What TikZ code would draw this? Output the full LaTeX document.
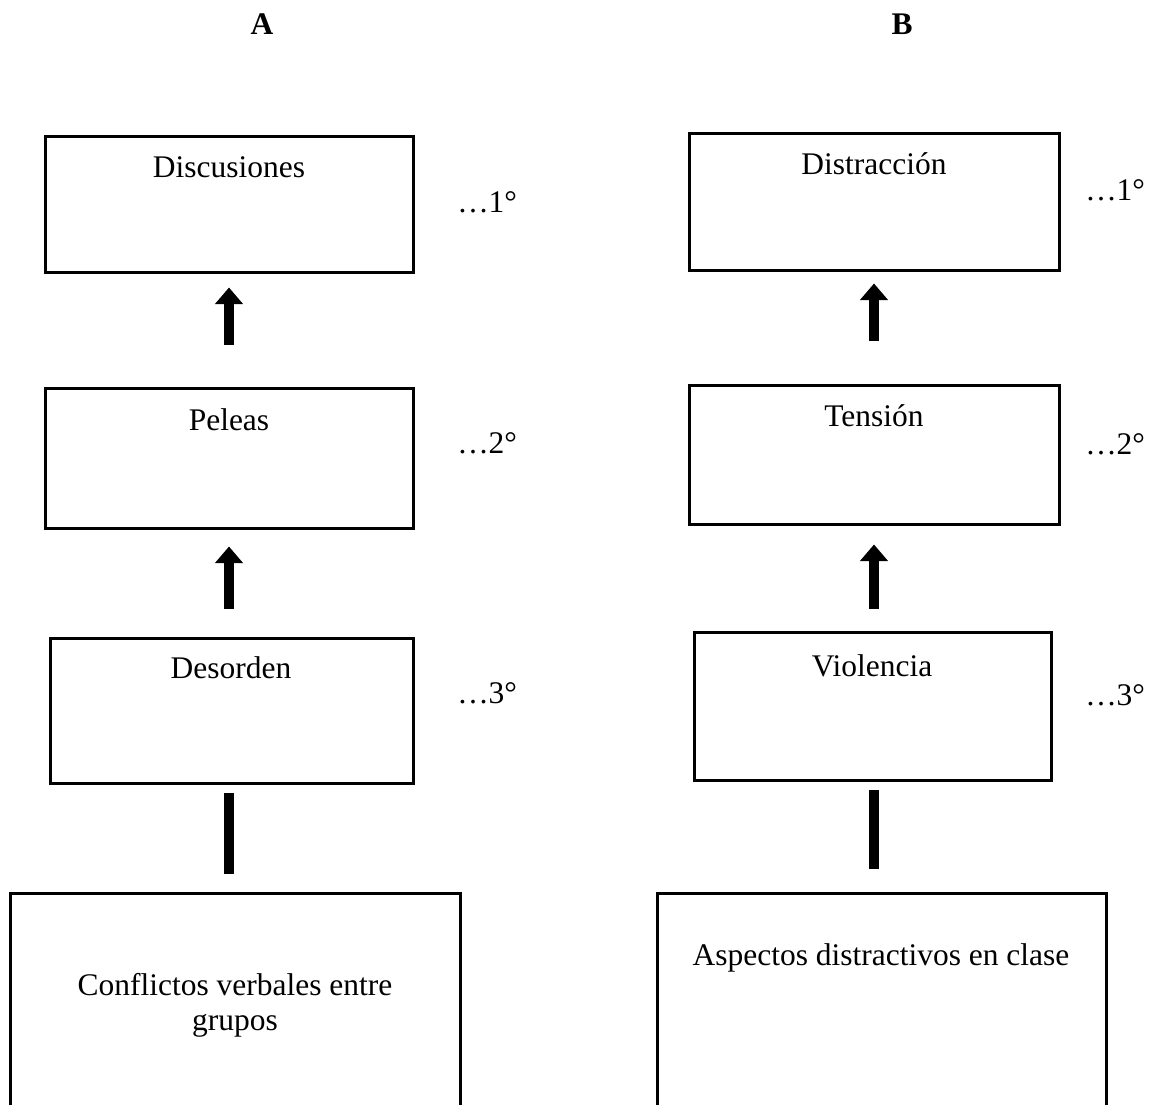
\documentclass[tikz,border=0pt]{standalone}
\usepackage{fontspec}
\setmainfont{Liberation Serif}
\usetikzlibrary{arrows.meta,fit}
\begin{document}
\begin{tikzpicture}[x=0.75pt,y=-0.75pt,
  box/.style={draw, line width=2.25pt, inner sep=0pt},
  txt/.style={anchor=base, inner sep=0pt, font=\fontsize{23.6}{26}\selectfont},
  ttl/.style={anchor=base, inner sep=0pt, font=\fontsize{23.6}{26}\selectfont\bfseries},
  lvl/.style={anchor=base west, inner sep=0pt, font=\fontsize{23.6}{26}\selectfont},
  uparrow/.style={line width=7.5pt, -{Triangle[width=20.5pt,length=12.5pt]}},
  bar/.style={line width=7pt}]
\useasboundingbox (0,0) rectangle (1153,1104);
\clip (0,0) rectangle (1153,1104);
% titles
\node[ttl] (tA) at (262,34) {A};
\node[ttl] (tB) at (902,34) {B};
% column A
\node[box, fit={(45,136) (413,272)}] (a1) {};
\node[box, fit={(45,388) (413,528)}] (a2) {};
\node[box, fit={(50,638) (413,783)}] (a3) {};
\node[box, fit={(10,893) (460,1130)}] (a4) {};
\node[txt] (a1t) at (229,177) {Discusiones};
\node[txt] (a2t) at (229,430) {Peleas};
\node[txt] (a3t) at (231,678) {Desorden};
\node[txt] (a4t) at (235,995) {Conflictos verbales entre};
\node[txt] (a4u) at (235,1030) {grupos};
\node[lvl] (la1) at (457,212) {\dots1°};
\node[lvl] (la2) at (457,453) {\dots2°};
\node[lvl] (la3) at (457,703) {\dots3°};
% column B
\node[box, fit={(689,133) (1059,270)}] (b1) {};
\node[box, fit={(689,385) (1059,524)}] (b2) {};
\node[box, fit={(694,632) (1051,780)}] (b3) {};
\node[box, fit={(657,893) (1106,1130)}] (b4) {};
\node[txt] (b1t) at (874,174) {Distracción};
\node[txt] (b2t) at (874,426) {Tensión};
\node[txt] (b3t) at (872,676) {Violencia};
\node[txt] (b4t) at (881,965) {Aspectos distractivos en clase};
\node[lvl] (lb1) at (1085,200) {\dots1°};
\node[lvl] (lb2) at (1085,454) {\dots2°};
\node[lvl] (lb3) at (1085,705) {\dots3°};
% connectors A
\draw[uparrow, shorten <=31.5pt, shorten >=10.5pt] (a2.north) -- (a1.south);
\draw[uparrow, shorten <=21pt, shorten >=12.75pt] (a3.north -| a2.south) -- (a2.south);
\draw[bar, shorten <=13.5pt, shorten >=6pt] (a4.north -| a2.south) -- (a3.south -| a2.south);
% connectors B
\draw[uparrow, shorten <=32.25pt, shorten >=9pt] (b2.north) -- (b1.south);
\draw[uparrow, shorten <=16.5pt, shorten >=14.25pt] (b3.north -| b2.south) -- (b2.south);
\draw[bar, shorten <=17.25pt, shorten >=6pt] (b4.north -| b2.south) -- (b3.south -| b2.south);
\end{tikzpicture}
\end{document}
